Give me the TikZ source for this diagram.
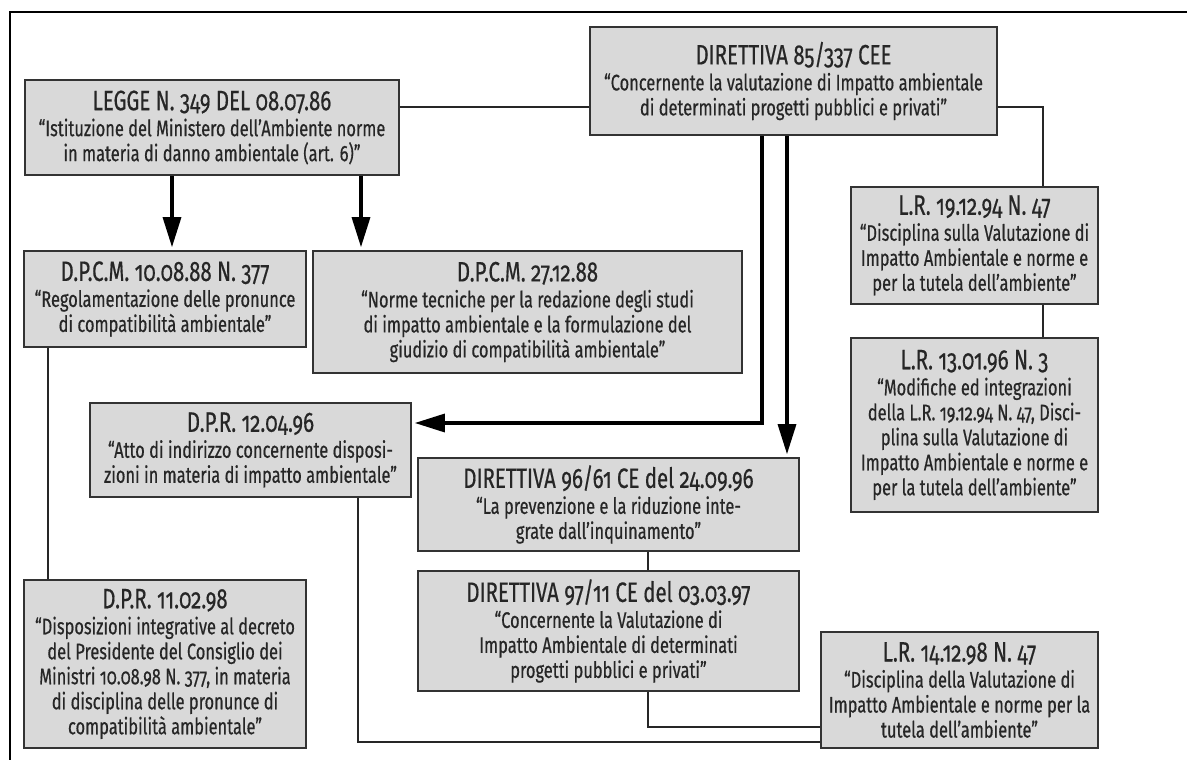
\documentclass[tikz,border=0pt]{standalone}
\usepackage{fontspec}
\setmainfont{Fira Sans}[Numbers=OldStyle,FakeStretch=0.73,FakeBold=0.5]
\usetikzlibrary{arrows.meta}

\newcommand{\ttl}[1]{{\fontsize{28}{30}\selectfont #1}\\[1pt]}

\begin{document}
\begin{tikzpicture}[x=1pt,y=-1pt,
    box/.style={draw=black!80,line width=1.6pt,fill=black!15,align=center,text=black!85,
      inner sep=2pt,font=\fontsize{22.5}{25}\selectfont},
    conn/.style={draw=black!85,line width=1.4pt},
    arr/.style={draw=black,line width=3.2pt,-{Triangle[length=30pt,width=18pt]},shorten >=3pt}]
        \useasboundingbox (0,0) rectangle (1187,760);
        \draw [line width=2pt] (1187,12) -- (10,12) -- (10,760);

        \node [box,minimum width=407pt,minimum height=108pt] at (793.5,81) (d85)
          {\ttl{DIRETTIVA 85/337 CEE}“Concernente la valutazione di Impatto ambientale\\di determinati progetti pubblici e privati”};
        \node [box,minimum width=374pt,minimum height=95pt] at (212,127.5) (legge)
          {\ttl{LEGGE N. 349 DEL 08.07.86}“Istituzione del Ministero dell’Ambiente norme\\in materia di danno ambientale (art. 6)”};
        \node [box,minimum width=282pt,minimum height=96pt] at (165,299) (dpcm377)
          {\ttl{D.P.C.M. 10.08.88 N. 377}“Regolamentazione delle pronunce\\di compatibilità ambientale”};
        \node [box,minimum width=429pt,minimum height=122pt] at (527.5,312) (dpcm88)
          {\ttl{D.P.C.M. 27.12.88}“Norme tecniche per la redazione degli studi\\di impatto ambientale e la formulazione del\\giudizio di compatibilità ambientale”};
        \node [box,minimum width=321pt,minimum height=94pt] at (250.5,450) (dpr96)
          {\ttl{D.P.R. 12.04.96}“Atto di indirizzo concernente disposi-\\zioni in materia di impatto ambientale”};
        \node [box,minimum width=282pt,minimum height=168pt] at (165,664) (dpr98)
          {\ttl{D.P.R. 11.02.98}“Disposizioni integrative al decreto\\del Presidente del Consiglio dei\\Ministri 10.08.98 N. 377, in materia\\di disciplina delle pronunce di\\compatibilità ambientale”};
        \node [box,minimum width=381pt,minimum height=93pt] at (608.5,504.5) (dir96)
          {\ttl{DIRETTIVA 96/61 CE del 24.09.96}“La prevenzione e la riduzione inte-\\grate dall’inquinamento”};
        \node [box,minimum width=381pt,minimum height=120pt] at (608.5,631) (dir97)
          {\ttl{DIRETTIVA 97/11 CE del 03.03.97}“Concernente la Valutazione di\\Impatto Ambientale di determinati\\progetti pubblici e privati”};
        \node [box,minimum width=247pt,minimum height=117pt] at (974.5,245.5) (lr94)
          {\ttl{L.R. 19.12.94 N. 47}“Disciplina sulla Valutazione di\\Impatto Ambientale e norme e\\per la tutela dell’ambiente”};
        \node [box,minimum width=247pt,minimum height=174pt] at (974.5,425) (lr96)
          {\ttl{L.R. 13.01.96 N. 3}“Modifiche ed integrazioni\\della L.R. 19.12.94 N. 47, Disci-\\plina sulla Valutazione di\\Impatto Ambientale e norme e\\per la tutela dell’ambiente”};
        \node [box,minimum width=277pt,minimum height=116pt] at (959.5,690) (lr98)
          {\ttl{L.R. 14.12.98 N. 47}“Disciplina della Valutazione di\\Impatto Ambientale e norme per la\\tutela dell’ambiente”};

        % plain links
        \draw [conn] ([yshift=20.5pt]legge.east) -- ([yshift=20.5pt]legge.east -| d85.west);
        \draw [conn] ([yshift=-26pt]d85.east) -| ([xshift=68.5pt]lr94.north);
        \draw [conn] ([xshift=68.5pt]lr94.south) -- ([xshift=68.5pt]lr96.north);
        \draw [conn] ([xshift=-117pt]dpcm377.south) -- ([xshift=-117pt]dpr98.north);
        \draw [conn] ([xshift=39.5pt]dir96.south) -- ([xshift=39.5pt]dir97.north);
        \draw [conn] ([xshift=39.5pt]dir97.south) |- ([yshift=-37pt]lr98.west);
        \draw [conn] ([xshift=107.5pt]dpr96.south) |- ([yshift=-52pt]lr98.west);

        % arrows
        \draw [arr] ([xshift=-40pt]legge.south) -- ([xshift=7pt]dpcm377.north);
        \draw [arr] ([xshift=149pt]legge.south) -- ([xshift=-166.5pt]dpcm88.north);
        \draw [arr] ([xshift=-31.5pt]d85.south) |- ([yshift=27pt]dpr96.east);
        \draw [arr] ([xshift=-6.5pt]d85.south) -- ([xshift=178.5pt]dir96.north);
      \end{tikzpicture}
\end{document}
